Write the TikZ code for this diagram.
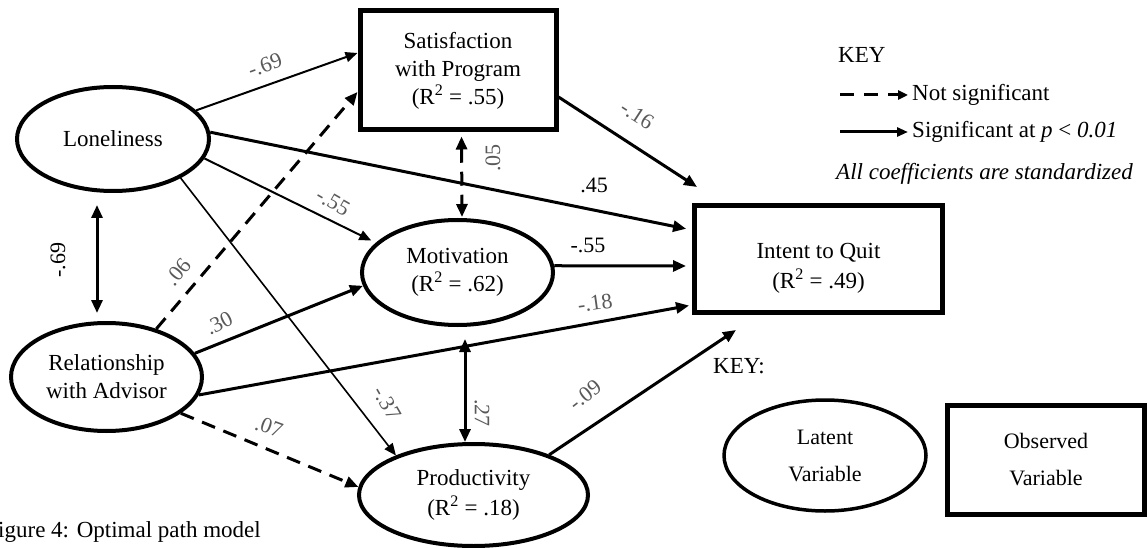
\documentclass[tikz,border=0pt]{standalone}
\usepackage{fontspec}
\setmainfont{Liberation Serif}
\usetikzlibrary{arrows.meta,shapes.geometric,calc}
\begin{document}
\begin{tikzpicture}[x=1pt,y=-1pt,
  txt/.style={font=\fontsize{23}{28}\selectfont, align=center, inner sep=0pt},
  ell/.style={ellipse, draw, line width=4pt, txt},
  box/.style={rectangle, draw, line width=5pt, txt},
  sig/.style={line width=3pt, -{Triangle[length=13pt,width=11pt]}},
  sigd/.style={line width=3pt, {Triangle[length=13pt,width=11pt]}-{Triangle[length=13pt,width=11pt]}},
  nsig/.style={sig, dash pattern=on 14pt off 9pt},
  nsigd/.style={sigd, dash pattern=on 14pt off 9pt},
  slim/.style={line width=2pt, -{Triangle[length=12pt,width=10pt]}},
  slimmer/.style={line width=1.6pt, -{Triangle[length=12pt,width=10pt]}},
  coef/.style={font=\fontsize{22}{22}\selectfont, text=black!65, inner sep=0pt},
  coefb/.style={font=\fontsize{22}{22}\selectfont, text=black, inner sep=0pt},
  keyt/.style={font=\fontsize{23}{28}\selectfont, inner sep=0pt, anchor=west}
]
\useasboundingbox (0,0) rectangle (1148,548);

% nodes
\node[box, minimum width=196pt, minimum height=119pt] (sat) at (458,70.5)
  {Satisfaction\\with Program\\(R\textsuperscript{2} = .55)};
\node[ell, minimum width=192pt, minimum height=104pt] (lon) at (113,139) {Loneliness};
\node[ell, minimum width=191pt, minimum height=108pt] (rel) at (106.5,377) {Relationship\\with Advisor};
\node[ell, minimum width=191pt, minimum height=105pt] (mot) at (457.5,272.5) {Motivation\\(R\textsuperscript{2} = .62)};
\node[ell, minimum width=229pt, minimum height=102pt, font=\fontsize{23}{30}\selectfont] (prod) at (473.5,495) {Productivity\\(R\textsuperscript{2} = .18)};
\node[box, minimum width=248pt, minimum height=107pt] (intent) at (818.5,259) {};
\node[txt, font=\fontsize{23}{30}\selectfont] (intenttxt) at (818.5,268) {Intent to Quit\\(R\textsuperscript{2} = .49)};

% key nodes
\node[ell, line width=3.5pt, minimum width=202pt, minimum height=111pt, font=\fontsize{22}{37}\selectfont] (latent) at (825,455.5) {Latent\\Variable};
\node[box, line width=4.5pt, minimum width=197pt, minimum height=109pt, font=\fontsize{22}{37}\selectfont] (obs) at (1046,460) {Observed\\Variable};

% connectors
\draw[slim] (lon.19) -- ([yshift=17.5pt]sat.west);
\draw[nsig] (rel.44) -- ([yshift=-21.5pt]sat.west);
\draw[sig, shorten >=6pt] (lon.4) -- ([yshift=29pt]intent.west);
\draw[slim, shorten >=5pt] (lon.-12) -- (mot.160);
\draw[slimmer] (lon.-30) -- (prod.153);
\draw[sigd, shorten <=12pt, shorten >=8pt] ([xshift=-16pt]lon.south) -- ([xshift=-9.5pt]rel.north);
\draw[nsigd, shorten <=4pt, shorten >=1pt] ([xshift=3.5pt]sat.south) -- ([xshift=4.5pt]mot.north);
\draw[sig] ([yshift=-26.5pt]sat.east) -- ([xshift=5pt,yshift=16pt]intent.north west);
\draw[sig, shorten >=6pt] (mot.4) -- ([yshift=-7pt]intent.west);
\draw[sig] (rel.15) -- (mot.188);
\draw[sig, shorten >=3pt] (rel.-11) -- ([yshift=-46pt]intent.west);
\draw[sigd, shorten <=12pt] ([xshift=7.5pt]mot.south) -- ([xshift=-8.5pt]prod.north);
\draw[nsig] (rel.-26) -- (prod.176);
\draw[sig] (prod.28) -- ([xshift=44pt,yshift=-15pt]intent.south west);

% coefficients
\node[coef, rotate=20] (c1) at (265,65) {-.69};
\node[coef, rotate=50] (c2) at (178,272) {.06};
\node[coefb] (c3) at (594,185) {.45};
\node[coef, rotate=-30] (c4) at (333,202) {-.55};
\node[coef, rotate=-60] (c5) at (387,403) {-.37};
\node[coefb, rotate=90] (c6) at (58,260) {-.69};
\node[coef, rotate=90] (c7) at (493,158) {.05};
\node[coef, rotate=-90] (c8) at (482,413) {.27};
\node[coef, rotate=-33] (c9) at (637,115) {-.16};
\node[coefb] (c10) at (588,245) {-.55};
\node[coef, rotate=27] (c11) at (219,323) {.30};
\node[coef, rotate=8] (c12) at (595,303) {-.18};
\node[coef, rotate=-20] (c13) at (269,427) {.07};
\node[coef, rotate=38] (c14) at (585,395) {-.09};

% key (top right)
\node[keyt] (key) at (838,55) {KEY};
\coordinate (k1s) at (840,95);
\node[keyt] (k1) at (912,95) {Not significant};
\draw[line width=3pt, dash pattern=on 14pt off 10pt, -{Triangle[length=10pt,width=9pt]}, shorten >=4pt] (k1s) -- (k1.west);
\coordinate (k2s) at (840,132);
\node[keyt] (k2) at (912,132) {Significant at \textit{p} < \textit{0.01}};
\draw[line width=3pt, -{Triangle[length=11pt,width=9pt]}, shorten >=4pt] (k2s) -- (k2.west);
\node[keyt, font=\fontsize{23}{28}\selectfont\itshape] (k3) at (836,174) {All coefficients are standardized};

\node[keyt] (key2) at (713,366) {KEY:};

% caption
\node[keyt] (cap) at (-2,532) {igure 4: Optimal path model};
\end{tikzpicture}
\end{document}
